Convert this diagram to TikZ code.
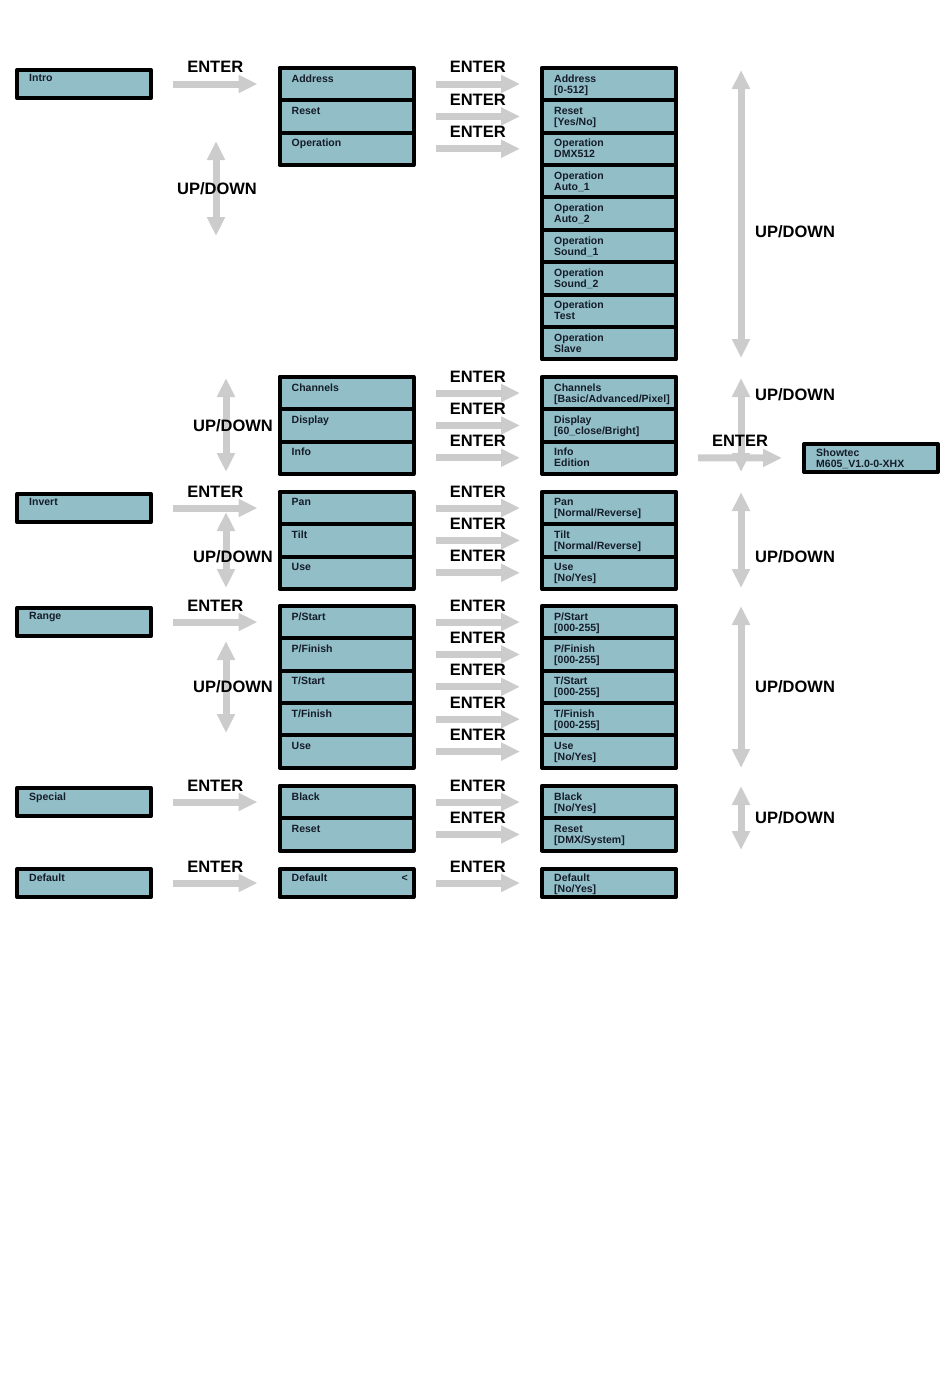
\documentclass[tikz,border=0pt]{standalone}
\usepackage{fontspec}
\setmainfont{Liberation Sans}
\usetikzlibrary{arrows.meta}
\definecolor{lcdblue}{RGB}{146,190,200}
\definecolor{ink}{RGB}{20,28,40}
\definecolor{keygray}{RGB}{204,204,204}
\begin{document}
\begin{tikzpicture}[x=1pt,y=-1pt,line join=round,
	box/.style={draw=black,line width=4pt,fill=lcdblue,minimum width=134pt,inner sep=0pt},
	row/.style={box,minimum height=32.4pt,label={[txt,yshift=-8.5pt]north west:{#1}}},
	one/.style={box,minimum height=28pt,label={[txt,yshift=-6.5pt]north west:{#1}}},
	txt/.style={anchor=north west,xshift=14pt,inner sep=0pt,align=left,text=ink,font=\bfseries\fontsize{10.5}{11}\selectfont},
	key/.style={draw=keygray,line width=7pt},
	enter/.style={key,-{Triangle[length=19pt,width=17pt]},shorten <=20pt,shorten >=20pt},
	updown/.style={key,{Triangle[length=19pt,width=17pt]}-{Triangle[length=19pt,width=17pt]}},
	lab/.style={inner sep=0pt,font=\bfseries\fontsize{16.5}{19}\selectfont}]
	\useasboundingbox (0,0) rectangle (950,1397);
	% first column
	\node[one=Intro] (intro) at (84,84) {};
	\node[one=Invert] (invert) at (84,508) {};
	\node[one=Range] (range) at (84,622) {};
	\node[one=Special] (special) at (84,802) {};
	\node[one=Default] (deflt) at (84,883) {};
	% second column
	\foreach \t [count=\i from 0] in {Address,Reset,Operation}
	\node[row=\t] (sa\i) at (346.5,84+32.4*\i) {};
	\foreach \t [count=\i from 0] in {Channels,Display,Info}
	\node[row=\t] (sb\i) at (346.5,393+32.4*\i) {};
	\foreach \t [count=\i from 0] in {Pan,Tilt,Use}
	\node[row=\t] (sc\i) at (346.5,508+32.4*\i) {};
	\foreach \t [count=\i from 0] in {P/Start,P/Finish,T/Start,T/Finish,Use}
	\node[row=\t] (sd\i) at (346.5,622+32.4*\i) {};
	\foreach \t [count=\i from 0] in {Black,Reset}
	\node[row=\t] (se\i) at (346.5,802+32.4*\i) {};
	\node[one={\makebox[116pt]{Default\hfill<}}] (sdef) at (346.5,883) {};
	% third column
	\foreach \t [count=\i from 0] in {{Address\\{[0-512]}},{Reset\\{[Yes/No]}},{Operation\\DMX512},{Operation\\Auto\_1},{Operation\\Auto\_2},{Operation\\Sound\_1},{Operation\\Sound\_2},{Operation\\Test},{Operation\\Slave}}
	\node[row=\t] (va\i) at (609,84+32.4*\i) {};
	\foreach \t [count=\i from 0] in {{Channels\\{[Basic/Advanced/Pixel]}},{Display\\{[60\_close/Bright]}},{Info\\Edition}}
	\node[row=\t] (vb\i) at (609,393+32.4*\i) {};
	\foreach \t [count=\i from 0] in {{Pan\\{[Normal/Reverse]}},{Tilt\\{[Normal/Reverse]}},{Use\\{[No/Yes]}}}
	\node[row=\t] (vc\i) at (609,508+32.4*\i) {};
	\foreach \t [count=\i from 0] in {{P/Start\\{[000-255]}},{P/Finish\\{[000-255]}},{T/Start\\{[000-255]}},{T/Finish\\{[000-255]}},{Use\\{[No/Yes]}}}
	\node[row=\t] (vd\i) at (609,622+32.4*\i) {};
	\foreach \t [count=\i from 0] in {{Black\\{[No/Yes]}},{Reset\\{[DMX/System]}}}
	\node[row=\t] (ve\i) at (609,802+32.4*\i) {};
	\node[one={Default\\{[No/Yes]}}] (vdef) at (609,883) {};
	\node[one={Showtec\\M605\_V1.0-0-XHX}] (showtec) at (871,458) {};
	% UP/DOWN keys
	\draw[updown] (216,141) -- (216,236);
	\draw[updown] (226,378) -- (226,472);
	\draw[updown] (226,512) -- (226,588);
	\draw[updown] (226,641) -- (226,733);
	\draw[updown] (741,70) -- (741,358);
	\draw[updown] (741,378) -- (741,472);
	\draw[updown] (741,492) -- (741,588);
	\draw[updown] (741,606) -- (741,768);
	\draw[updown] (741,786) -- (741,850);
	\node[lab] (ud1) at (217,189) {UP/DOWN};
	\foreach \y [count=\k from 2] in {426,557,687}
	\node[lab] (ud\k) at (233,\y) {UP/DOWN};
	\foreach \y [count=\k from 5] in {232,395,557,687,818}
	\node[lab,anchor=west] (ud\k) at (755,\y) {UP/DOWN};
	% ENTER keys
	\foreach \a/\b in {intro/sa0,invert/sc0,range/sd0,special/se0,deflt/sdef,sdef/vdef,vb2/showtec,sa0/va0,sa1/va1,sa2/va2,sb0/vb0,sb1/vb1,sb2/vb2,sc0/vc0,sc1/vc1,sc2/vc2,sd0/vd0,sd1/vd1,sd2/vd2,sd3/vd3,sd4/vd4,se0/ve0,se1/ve1}
	\draw[enter] (\a) -- (\b) node[midway,above=7.5pt,lab]{ENTER};
\end{tikzpicture}
\end{document}
